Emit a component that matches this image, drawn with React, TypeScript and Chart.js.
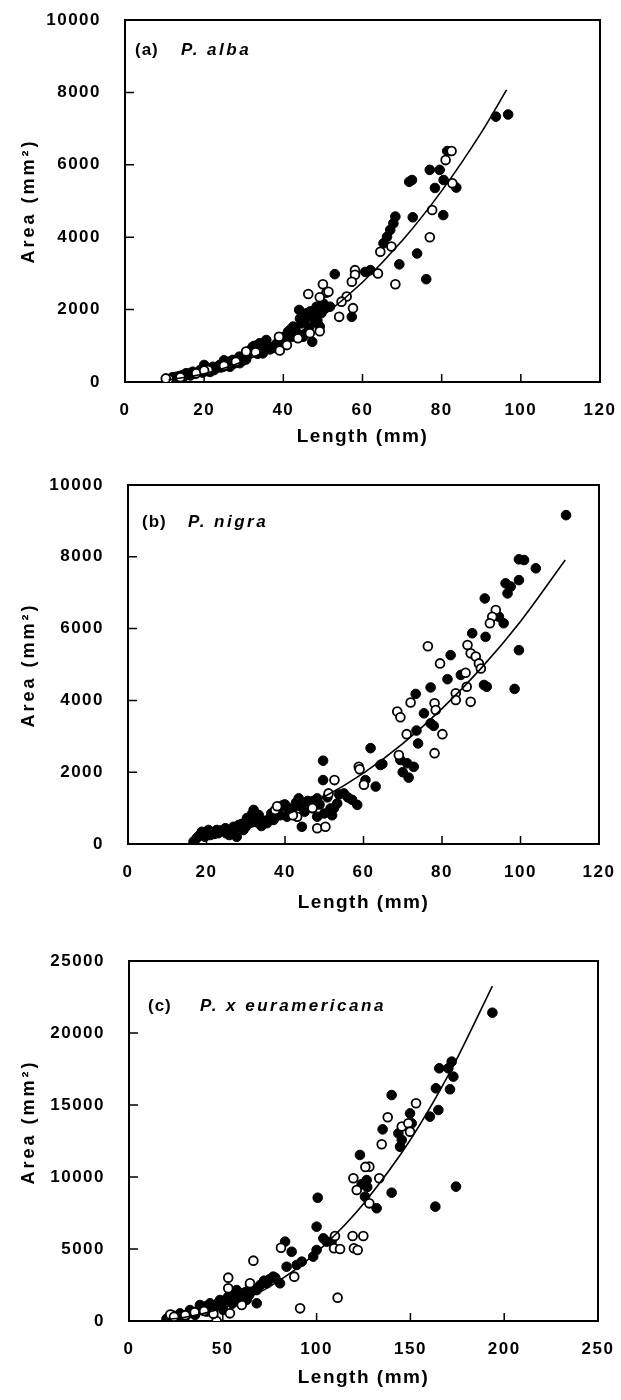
import React, { useEffect, useRef } from "react";
import { Chart, registerables } from "chart.js";
Chart.register(...registerables);

type Pt = [number, number];

// ---------- Panel (a) P. alba ----------
const albaFilled: Pt[] = [
  [93.7, 7330], [96.8, 7390], [81.4, 6380], [77, 5860], [79.5, 5860], [71.8, 5530], [72.5, 5580],
  [78.3, 5360], [80.5, 5580], [83.7, 5370], [80.4, 4610], [72.7, 4550], [68.3, 4570], [67.8, 4380],
  [67, 4200], [66.2, 4010], [65.3, 3830], [73.8, 3550], [69.3, 3250], [76.1, 2840], [62, 3090],
  [60.7, 3040], [53, 2980], [57.3, 1800], [44, 1990], [45.9, 1900], [48.4, 2080], [50.1, 2170],
  [51.8, 2080], [47.5, 1800], [44.6, 1620], [42.5, 1530], [49.2, 1530], [41.2, 1390], [47.3, 1110],
  [46.5, 1500], [48, 1650], [43.5, 1350], [45, 1250], [35.7, 1160], [34, 1070], [32.3, 980],
  [34.8, 790], [33, 900], [36, 1000], [31, 760], [30, 700], [28.9, 700], [27.2, 610], [26, 560],
  [25.6, 520], [24.5, 480], [23.9, 470], [22.2, 420], [21, 370], [20, 470], [19, 330], [18.8, 300],
  [17.1, 285], [16, 230], [15.4, 240], [14.5, 190], [13.7, 165], [12.8, 140], [12, 130], [26.5, 420],
  [29.5, 580], [22.5, 330], [37.5, 940], [33.5, 780],
  [13.2, 90], [14.8, 140], [16.5, 180], [17.8, 230], [19.6, 260], [20.8, 300], [23, 390], [24.2, 400],
  [25, 600], [27.8, 520], [28.4, 600], [29, 520], [30.6, 620], [31.8, 900], [32.8, 1000], [34.4, 950],
  [35.2, 1080], [36.6, 900], [38.2, 1050], [39.4, 1150], [40.2, 1250], [41.8, 1450], [43, 1500],
  [44.2, 1750], [45.4, 1700], [46.8, 1950], [48.8, 2000], [49.6, 1900], [50.6, 2050], [46, 1350],
  [48.6, 1700], [42.2, 1250], [39.8, 1050], [27, 480], [24.8, 420], [21.5, 280]
];
const albaOpen: Pt[] = [
  [82.5, 6380], [81, 6130], [82.7, 5490], [77.6, 4750], [77, 4000], [64.5, 3600], [67.3, 3740],
  [68.3, 2700], [63.9, 3000], [58.1, 3090], [58.1, 2960], [57.3, 2770], [56, 2360], [54.7, 2220],
  [57.6, 2040], [54.1, 1800], [50, 2700], [46.3, 2430], [50.9, 2470], [49.2, 2340], [51.4, 2490],
  [46.7, 1350], [49.2, 1400], [43.7, 1210], [38.9, 1250], [40.9, 1020], [39.1, 870], [30.6, 840],
  [25, 450], [21, 330], [18, 240], [14, 130], [11, 80], [10.3, 100], [28, 560], [33, 820], [20, 320]
];
const albaCurve: Pt[] = [
  [11, 60], [20, 230], [30, 575], [40, 1100], [50, 1825], [60, 2755], [70, 3900], [80, 5280],
  [90, 6890], [96.4, 8070]
];

// ---------- Panel (b) P. nigra ----------
const nigraFilled: Pt[] = [
  [111.6, 9160], [99.6, 7930], [100.9, 7910], [103.9, 7680], [96.2, 7260], [97.5, 7170], [99.6, 7350],
  [96.7, 6980], [90.9, 6840], [95.7, 6150], [94.5, 6330], [87.7, 5870], [91.1, 5770], [82.2, 5260],
  [84.8, 4710], [81.4, 4590], [90.7, 4430], [91.4, 4380], [98.5, 4320], [99.6, 5400], [77.1, 4360],
  [73.3, 4180], [75.4, 3640], [77.1, 3360], [77.9, 3290], [73.5, 3160], [73.9, 2800], [61.8, 2670],
  [64.8, 2230], [69.4, 2340], [71.1, 2250], [72.8, 2150], [70, 2000], [71.5, 1850], [49.7, 2320],
  [64.3, 2200], [49.7, 1780], [60.5, 1780], [63.1, 1600], [55, 1410], [57.1, 1230], [58.4, 1090],
  [53.3, 1130], [51.6, 990], [48.2, 1270], [46.5, 1130], [43.5, 1270], [39.6, 1090], [38, 950],
  [44.3, 480], [48.2, 760], [40.5, 760], [33.3, 810], [32, 950], [30.3, 720], [28.2, 530], [26.9, 480],
  [24.8, 440], [22.6, 390], [20.5, 390], [18.8, 340], [17.5, 160], [16.7, 65], [37.1, 670], [35.4, 580],
  [29.4, 390], [27.7, 200], [42, 1000], [45, 900], [36, 700], [31, 600], [25, 300], [21, 250], [19, 300],
  [23, 300], [34, 500], [40, 1100], [47, 1000], [50, 850], [52, 800],
  [18, 220], [19.6, 200], [21.8, 330], [23.8, 380], [26, 360], [27, 420], [29, 560], [30, 480],
  [31.5, 820], [32.8, 700], [34.5, 650], [36.5, 850], [38.8, 800], [39, 1050], [41, 900], [42.8, 1150],
  [44, 1050], [45.8, 1200], [47.2, 1200], [48.8, 1100], [50.8, 1300], [52.5, 1000], [56, 1300],
  [53.8, 1380], [33, 600], [25.8, 250], [22, 280]
];
const nigraOpen: Pt[] = [
  [93.7, 6520], [92.8, 6330], [92.2, 6150], [86.5, 5540], [87.3, 5310], [88.6, 5220], [89.4, 5030],
  [89.9, 4890], [76.4, 5510], [79.5, 5030], [86, 4770], [86.3, 4380], [83.5, 4200], [83.5, 4010],
  [87.3, 3960], [72, 3940], [68.6, 3690], [69.4, 3530], [78.1, 3920], [78.4, 3730], [80.1, 3060],
  [71, 3060], [78.1, 2530], [58.8, 2150], [69, 2480], [59, 2080], [52.6, 1780], [60.1, 1650],
  [51.1, 1410], [37.5, 950], [43.1, 760], [48.2, 440], [50.3, 480], [38, 1050], [42, 800], [47, 1000]
];
const nigraCurve: Pt[] = [
  [17, 115], [20, 170], [30, 420], [40, 800], [50, 1315], [60, 1975], [70, 2795], [80, 3770],
  [90, 4900], [100, 6200], [111.4, 7910]
];

// ---------- Panel (c) P. x euramericana ----------
const euraFilled: Pt[] = [
  [193.7, 21410], [172, 18010], [165.4, 17550], [170.2, 17550], [172.9, 16970], [163.6, 16160],
  [171.1, 16090], [140, 15690], [164.9, 14650], [160.4, 14190], [149.8, 14420], [150.7, 13730],
  [135.2, 13310], [143.6, 13030], [145.4, 12570], [144.5, 12100], [123.1, 11530], [126.7, 9790],
  [125.8, 8630], [132, 7830], [140, 8910], [174.3, 9330], [163.3, 7940], [108, 5510], [100.6, 8560],
  [100, 6550], [103.6, 5740], [105.4, 5510], [100, 4930], [98.2, 4470], [83.2, 5510], [86.7, 4810],
  [84, 3770], [89.4, 3890], [92.1, 4120], [76.9, 3080], [80.5, 2620], [73.4, 2620], [64.5, 2500],
  [68.1, 2150], [60.9, 1920], [57.4, 2150], [53.8, 2150], [52.9, 1690], [68.1, 1230], [62.7, 1460],
  [59.2, 1340], [48.5, 1460], [43.2, 1230], [37.8, 1110], [32.5, 760], [27.2, 530], [22.8, 420],
  [50.3, 760], [41.4, 650], [35.2, 420], [29.9, 300], [20, 150], [25, 200], [45, 900], [55, 1200],
  [124, 9500], [127, 9300],
  [21, 80], [23.5, 250], [26, 330], [28.5, 380], [31, 450], [33.8, 600], [36.5, 700], [39, 900],
  [40.5, 1000], [42, 850], [44.5, 1100], [47, 1200], [50, 1300], [52, 1500], [56, 1700], [58, 1800],
  [62, 2000], [66, 2300], [70, 2500], [72, 2800], [75, 2900], [78, 3000], [60, 1600], [64, 1800]
];
const euraOpen: Pt[] = [
  [153, 15120], [137.9, 14150], [145.4, 13500], [148.9, 13730], [149.8, 13150], [134.7, 12270],
  [128.1, 10720], [126, 10700], [119.6, 9910], [121.4, 9100], [133.4, 9910], [128.1, 8170],
  [109.8, 5900], [119.2, 5900], [124.9, 5900], [109.3, 5050], [119.9, 5050], [112.5, 5000],
  [121.9, 4930], [81, 5090], [88.1, 3080], [66.3, 4190], [52.9, 3010], [64.5, 2620], [52.9, 2270],
  [111.2, 1620], [91.2, 880], [46.7, 0], [53.8, 530], [60.1, 1110], [22, 450], [24, 300], [30, 400],
  [35, 600], [40, 700], [45, 500]
];
const euraCurve: Pt[] = [
  [20, 100], [30, 265], [40, 530], [50, 900], [60, 1400], [75, 2390], [90, 3700], [100, 4760],
  [110.7, 6090], [125, 8150], [150, 12590], [171, 17260], [193.7, 23260]
];

const albaTicksY = [0, 2000, 4000, 6000, 8000, 10000];
const nigraTicksY = [0, 2000, 4000, 6000, 8000, 10000];
const euraTicksY = [0, 5000, 10000, 15000, 20000, 25000];
const lengthTicks120 = [0, 20, 40, 60, 80, 100, 120];
const lengthTicks250 = [0, 50, 100, 150, 200, 250];

const FONT = '"Liberation Sans", Arial, Helvetica, sans-serif';

type Panel = {
  top: number; plotH: number; left: number; right: number; xAxisH: number;
  xTicks: number[]; yTicks: number[];
  filled: Pt[]; open: Pt[]; curve: Pt[];
  tag: string; species: string; tagX: number; speciesX: number; labelDy: number;
  xTitleDy: number; yTitleCy: number;
};

const panels: Panel[] = [
  { top: 0, plotH: 362, left: 125, right: 600, xAxisH: 80, xTicks: lengthTicks120, yTicks: albaTicksY,
    filled: albaFilled, open: albaOpen, curve: albaCurve, tag: "(a)", species: "P. alba",
    tagX: 135, speciesX: 181, labelDy: 30, xTitleDy: 55, yTitleCy: 201 },
  { top: 465, plotH: 359, left: 128, right: 599, xAxisH: 80, xTicks: lengthTicks120, yTicks: nigraTicksY,
    filled: nigraFilled, open: nigraOpen, curve: nigraCurve, tag: "(b)", species: "P. nigra",
    tagX: 142, speciesX: 188, labelDy: 37, xTitleDy: 59, yTitleCy: 665 },
  { top: 941, plotH: 360, left: 129, right: 598, xAxisH: 78, xTicks: lengthTicks250, yTicks: euraTicksY,
    filled: euraFilled, open: euraOpen, curve: euraCurve, tag: "(c)", species: "P. x euramericana",
    tagX: 148, speciesX: 200, labelDy: 45, xTitleDy: 57, yTitleCy: 1122 },
];

const toXY = (a: Pt[]) => a.map(([x, y]) => ({ x, y }));

function PanelChart({ p }: { p: Panel }) {
  const ref = useRef<HTMLCanvasElement | null>(null);
  const height = 20 + p.plotH + p.xAxisH;
  useEffect(() => {
    if (!ref.current) return;
    const framePlugin = {
      id: "frame",
      beforeDraw(chart: any) {
        (chart.ctx as any).letterSpacing = "1.5px";
      },
      beforeDatasetsDraw(chart: any) {
        const { ctx, chartArea: ca, scales } = chart;
        ctx.save();
        ctx.strokeStyle = "#000";
        ctx.lineWidth = 2;
        ctx.strokeRect(ca.left, ca.top, ca.right - ca.left, ca.bottom - ca.top);
        ctx.lineWidth = 1.5;
        ctx.beginPath();
        for (const v of p.xTicks) {
          const x = scales.x.getPixelForValue(v);
          ctx.moveTo(x, ca.bottom);
          ctx.lineTo(x, ca.bottom - 8);
        }
        for (const v of p.yTicks) {
          const y = scales.y.getPixelForValue(v);
          ctx.moveTo(ca.left, y);
          ctx.lineTo(ca.left + 9, y);
        }
        ctx.stroke();
        ctx.restore();
      },
      afterDraw(chart: any) {
        const { ctx, chartArea: ca } = chart;
        ctx.save();
        ctx.fillStyle = "#000";
        ctx.textBaseline = "middle";
        ctx.textAlign = "left";
        const ly = ca.top + p.labelDy;
        (ctx as any).letterSpacing = "1px";
        ctx.font = `bold 17px ${FONT}`;
        ctx.fillText(p.tag, p.tagX, ly);
        (ctx as any).letterSpacing = "2.5px";
        ctx.font = `italic bold 17px ${FONT}`;
        ctx.fillText(p.species, p.speciesX, ly);
        // x title
        ctx.textAlign = "center";
        ctx.font = `bold 19px ${FONT}`;
        (ctx as any).letterSpacing = "1.5px";
        ctx.fillText("Length (mm)", (ca.left + ca.right) / 2, ca.bottom + p.xTitleDy);
        // y title
        ctx.translate(29, p.yTitleCy - p.top);
        ctx.rotate(-Math.PI / 2);
        ctx.font = `bold 18px ${FONT}`;
        (ctx as any).letterSpacing = "3px";
        ctx.fillText("Area (mm²)", 0, 0);
        ctx.restore();
      },
    };
    const tickFont = { family: FONT, size: 17, weight: "bold" as const };
    const fmt = (v: any) => String(v);
    const chart = new Chart(ref.current, {
      type: "scatter",
      data: {
        datasets: [
          {
            data: toXY(p.curve), showLine: true, pointRadius: 0, borderColor: "#000",
            borderWidth: 1.6, cubicInterpolationMode: "monotone", fill: false,
          } as any,
          {
            data: toXY(p.open), pointRadius: 4.4, pointBorderWidth: 1.8,
            pointBackgroundColor: "#fff", pointBorderColor: "#000", showLine: false,
          },
          {
            data: toXY(p.filled), pointRadius: 4.8, pointBorderWidth: 1,
            pointBackgroundColor: "#000", pointBorderColor: "#000", showLine: false,
          },
        ],
      },
      options: {
        animation: false,
        responsive: false,
        maintainAspectRatio: false,
        events: [],
        layout: { padding: { top: 20, right: 621 - p.right, left: 0, bottom: 0 } },
        plugins: { legend: { display: false }, tooltip: { enabled: false }, title: { display: false } },
        scales: {
          x: {
            type: "linear", min: p.xTicks[0], max: p.xTicks[p.xTicks.length - 1],
            afterFit: (s: any) => { s.height = p.xAxisH; s.paddingLeft = 0; s.paddingRight = 0; },
            afterBuildTicks: (s: any) => { s.ticks = p.xTicks.map((v) => ({ value: v })); },
            ticks: { font: tickFont, color: "#000", padding: 18, maxRotation: 0, autoSkip: false, callback: fmt },
            grid: { display: false, drawTicks: false },
            border: { display: false },
          },
          y: {
            type: "linear", min: p.yTicks[0], max: p.yTicks[p.yTicks.length - 1],
            afterFit: (s: any) => { s.width = p.left; s.paddingTop = 0; s.paddingBottom = 0; },
            afterBuildTicks: (s: any) => { s.ticks = p.yTicks.map((v) => ({ value: v })); },
            ticks: { font: tickFont, color: "#000", padding: 24, autoSkip: false, callback: fmt },
            grid: { display: false, drawTicks: false },
            border: { display: false },
          },
        },
      },
      plugins: [framePlugin],
    });
    return () => chart.destroy();
  }, [p]);
  return (
    <canvas
      ref={ref}
      width={621}
      height={height}
      style={{ position: "absolute", left: 0, top: p.top, width: 621, height }}
    />
  );
}

export default function App() {
  return (
    <div style={{ position: "absolute", left: 0, top: 0, width: 621, height: 1400, background: "#fff", overflow: "hidden" }}>
      {panels.map((p, i) => (
        <PanelChart key={i} p={p} />
      ))}
    </div>
  );
}
